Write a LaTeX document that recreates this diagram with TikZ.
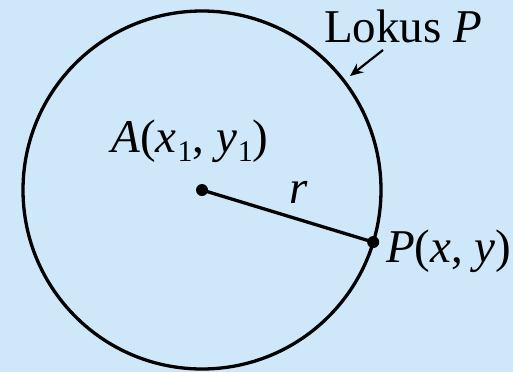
\documentclass[tikz,border=0pt]{standalone}
\usepackage{fontspec}
\setmainfont{Liberation Serif}
\usetikzlibrary{arrows.meta}
\definecolor{bgblue}{RGB}{206,232,250}
\newcommand{\subone}{\kern1pt\raisebox{-9pt}{\fontsize{30}{30}\selectfont 1}}
\tikzset{
  lbl/.style={inner sep=0pt, anchor=base west, font=\fontsize{47}{47}\selectfont},
  dot/.style={circle, fill=black, inner sep=0pt, minimum size=12pt},
  curve/.style={line width=3.3pt, black}
}
\begin{document}
\begin{tikzpicture}[x=1pt,y=-1pt]
\useasboundingbox[fill=bgblue] (0,0) rectangle (513,372);
\coordinate (c) at (202,190);
\draw[curve] (c) circle[radius=179];
\node[dot] (A) at (202,190) {};
\node[dot] (P) at (373.2,242.1) {};
\draw[curve] (A.center) -- (P.center);
\node[lbl] (lr) at (289,203) {\textit{r}};
\node[lbl] (la) at (111,152) {\textit{A}(\textit{x}\subone, \textit{y}\subone)};
\node[lbl] (lp) at (386,262) {\textit{P}(\textit{x}, \textit{y})};
\node[lbl] (lk) at (324,42) {Lokus \textit{P}};
\coordinate (t1) at (383,50);
\coordinate (t2) at (350,76);
\draw[line width=2.2pt, -{Stealth[length=13pt,width=11pt]}] (t1) -- (t2);
\end{tikzpicture}
\end{document}
